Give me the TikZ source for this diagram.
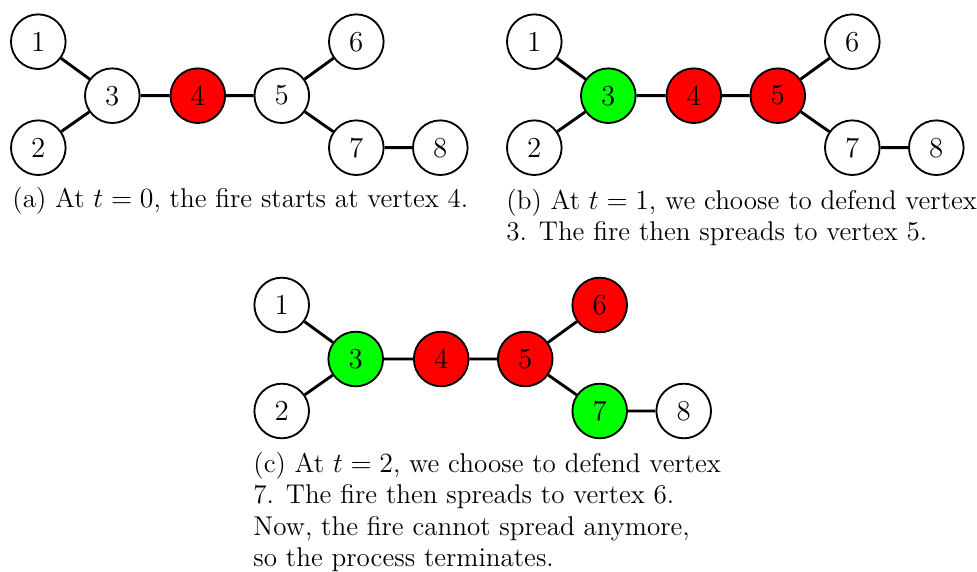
\documentclass[tikz,border=0pt]{standalone}
\usetikzlibrary{positioning}
\definecolor{fire}{RGB}{255,0,0}
\definecolor{safe}{RGB}{0,255,0}
\tikzset{
  vtx/.style={circle,draw=black,thick,fill=white,minimum size=23.6pt,inner sep=0pt,font=\fontsize{12.5}{14}\selectfont},
  burnt/.style={vtx,fill=fire},
  defended/.style={vtx,fill=safe},
  edge/.style={draw=black,line width=1.25pt},
  capt/.style={anchor=base west,inner sep=0pt,align=left,font=\fontsize{11.7}{13.6}\selectfont}
}
\begin{document}
\begin{tikzpicture}[x=0.432pt,y=-0.432pt]
\useasboundingbox (0,0) rectangle (977,572);
% panel (a)
\begin{scope}[shift={(38.3,41.7)}]
\node[vtx] (a1) at (0,0) {1};
\node[vtx] (a2) at (0,106) {2};
\node[vtx] (a3) at (74,54) {3};
\node[burnt] (a4) at (159.5,54) {4};
\node[vtx] (a5) at (243.5,54) {5};
\node[vtx] (a6) at (318,0) {6};
\node[vtx] (a7) at (318,106) {7};
\node[vtx] (a8) at (402,106) {8};
\end{scope}
\draw[edge] (a1)--(a3) (a2)--(a3) (a3)--(a4) (a4)--(a5) (a5)--(a6) (a5)--(a7) (a7)--(a8);
\node[capt] (ca) at (12,207.5) {(a) At $t=0$, the fire starts at vertex 4.};
% panel (b)
\begin{scope}[shift={(534.3,41.7)}]
\node[vtx] (b1) at (0,0) {1};
\node[vtx] (b2) at (0,106) {2};
\node[defended] (b3) at (74,54) {3};
\node[burnt] (b4) at (159.5,54) {4};
\node[burnt] (b5) at (243.5,54) {5};
\node[vtx] (b6) at (318,0) {6};
\node[vtx] (b7) at (318,106) {7};
\node[vtx] (b8) at (402,106) {8};
\end{scope}
\draw[edge] (b1)--(b3) (b2)--(b3) (b3)--(b4) (b4)--(b5) (b5)--(b6) (b5)--(b7) (b7)--(b8);
\node[capt] (cb) at (506,240.7) {(b) At $t=1$, we choose to defend vertex\\3. The fire then spreads to vertex 5.};
% panel (c)
\begin{scope}[shift={(281.7,305)}]
\node[vtx] (c1) at (0,0) {1};
\node[vtx] (c2) at (0,106) {2};
\node[defended] (c3) at (74,54) {3};
\node[burnt] (c4) at (159.5,54) {4};
\node[burnt] (c5) at (243.5,54) {5};
\node[burnt] (c6) at (318,0) {6};
\node[defended] (c7) at (318,106) {7};
\node[vtx] (c8) at (402,106) {8};
\end{scope}
\draw[edge] (c1)--(c3) (c2)--(c3) (c3)--(c4) (c4)--(c5) (c5)--(c6) (c5)--(c7) (c7)--(c8);
\node[capt] (cc) at (253,566.7) {(c) At $t=2$, we choose to defend vertex\\7. The fire then spreads to vertex 6.\\Now, the fire cannot spread anymore,\\so the process terminates.};
\end{tikzpicture}
\end{document}
